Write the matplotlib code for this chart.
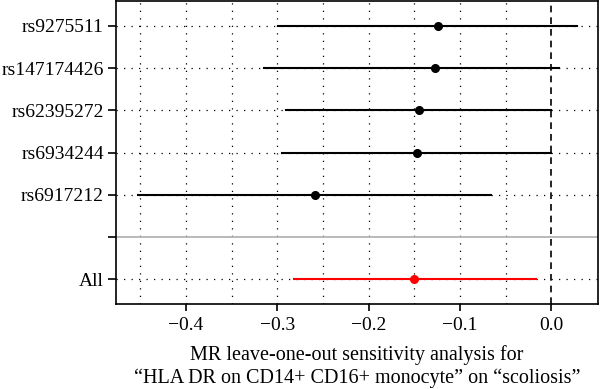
import matplotlib
matplotlib.use("Agg")
import matplotlib.pyplot as plt

# leave-one-out estimates (beta with 95% CI)
snps = ['rs9275511', 'rs147174426', 'rs62395272', 'rs6934244', 'rs6917212']
beta = [-0.124, -0.127, -0.145, -0.147, -0.259]
lower = [-0.299, -0.315, -0.290, -0.295, -0.453]
upper = [0.028, 0.009, 0.000, 0.000, -0.066]

all_label = 'All'
all_beta = -0.150
all_lower = -0.282
all_upper = -0.017

xticks = [-0.4, -0.3, -0.2, -0.1, 0.0]
xlabel = 'MR leave-one-out sensitivity analysis for\n\u201cHLA DR on CD14+ CD16+ monocyte\u201d on \u201cscoliosis\u201d'

plt.rcParams['font.family'] = ['Liberation Serif', 'DejaVu Serif']
plt.rcParams['font.size'] = 14

fig = plt.figure(figsize=(6, 3.89), dpi=100)
ax = fig.add_axes([0.193, 0.2185, 0.804, 0.78])

# rows: snps from top (7) down to 3, separator at 2, All at 1
ypos = list(range(len(snps) + 2, 2, -1))
sep_y = 2
all_y = 1

dotted = (0, (1, 5))
# grid
for gx in [-0.45, -0.4, -0.35, -0.3, -0.25, -0.2, -0.15, -0.1, -0.05]:
    ax.axvline(gx, color='black', lw=0.9, ls=dotted, zorder=0)
for gy in ypos + [all_y]:
    ax.axhline(gy, color='black', lw=0.9, ls=dotted, zorder=0)

ax.axhline(sep_y, color='#b3b3b3', lw=1.3, zorder=1)
ax.axvline(0, color='black', lw=1.2, ls=(0, (4, 3)), zorder=2)

for y, b, lo, hi in zip(ypos, beta, lower, upper):
    ax.plot([lo, hi], [y, y], color='black', lw=1.5, zorder=3)
    ax.plot(b, y, 'o', color='black', ms=5.5, zorder=4)

ax.plot([all_lower, all_upper], [all_y, all_y], color='red', lw=1.5, zorder=3)
ax.plot(all_beta, all_y, 'o', color='red', ms=5.5, zorder=4)

ax.set_xlim(-0.477, 0.0515)
ax.set_ylim(0.42, 7.6)
ax.set_xticks(xticks)
ax.set_xticklabels(['\u22120.4', '\u22120.3', '\u22120.2', '\u22120.1', '0.0'])
ax.set_yticks(ypos + [sep_y, all_y])
ax.set_yticklabels(snps + ['', all_label])
ax.tick_params(axis='y', length=5.5, width=1.2, pad=3)
ax.tick_params(axis='x', length=5, width=1.2, pad=4)
for s in ax.spines.values():
    s.set_linewidth(1.2)
ax.set_xlabel(xlabel, fontsize=14.5, linespacing=1.3, labelpad=8)

fig.savefig('out.png', dpi=100)
